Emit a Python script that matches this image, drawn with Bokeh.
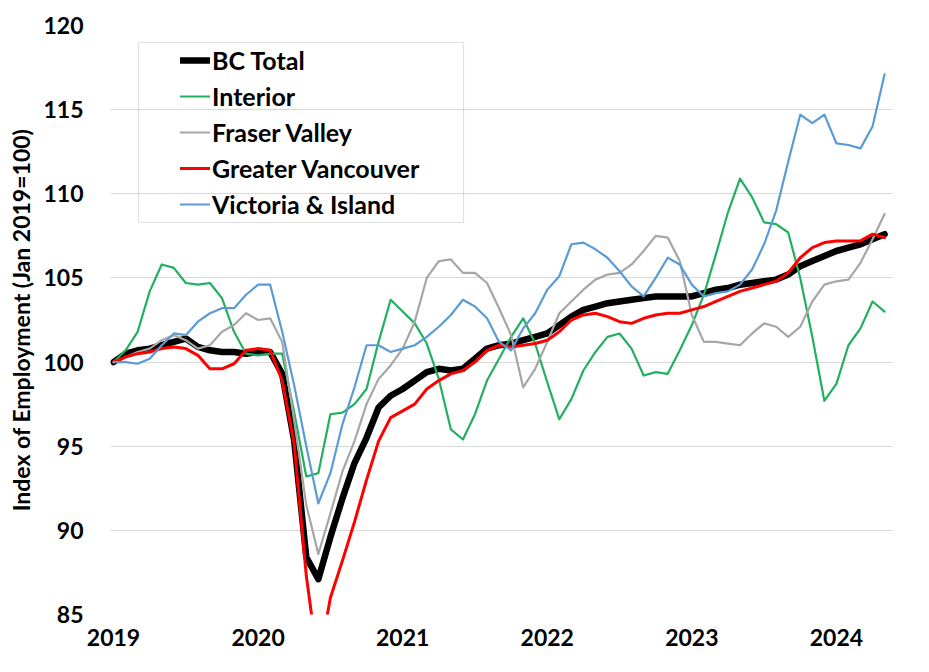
from bokeh.plotting import figure
from bokeh.models import FixedTicker, Legend, LegendItem, BoxAnnotation, Range1d
from bokeh.embed import file_html
from bokeh.resources import INLINE

# Monthly observations, Jan 2019 (index 0) .. May 2024 (index 64)
start_year = 2019
month_index = list(range(65))

bc_total = [100.0, 100.5, 100.7, 100.8, 101.0, 101.2, 101.4, 100.9, 100.7, 100.6, 100.6, 100.5,
            100.6, 100.6, 99.3, 95.3, 88.4, 87.1, 89.6, 91.9, 94.0, 95.5, 97.3, 98.0,
            98.4, 98.9, 99.4, 99.6, 99.5, 99.6, 100.2, 100.8, 101.0, 101.1, 101.3, 101.5,
            101.7, 102.2, 102.7, 103.1, 103.3, 103.5, 103.6, 103.7, 103.8, 103.9, 103.9, 103.9,
            103.9, 104.1, 104.3, 104.4, 104.6, 104.7, 104.8, 104.9, 105.2, 105.7, 106.0, 106.3,
            106.6, 106.8, 107.0, 107.3, 107.6]

interior = [100.0, 100.7, 101.8, 104.2, 105.8, 105.6, 104.7, 104.6, 104.7, 103.8, 101.8, 100.5,
            100.4, 100.5, 100.5, 97.0, 93.2, 93.4, 96.9, 97.0, 97.5, 98.4, 101.2, 103.7,
            103.0, 102.3, 101.1, 99.0, 96.0, 95.4, 96.9, 98.9, 100.2, 101.5, 102.6, 101.1,
            98.8, 96.6, 97.8, 99.5, 100.6, 101.5, 101.7, 100.8, 99.2, 99.4, 99.3, 100.7,
            102.2, 104.0, 106.4, 108.9, 110.9, 109.8, 108.3, 108.2, 107.7, 105.0, 101.5, 97.7,
            98.7, 101.0, 102.0, 103.6, 103.0]

fraser_valley = [100.0, 100.3, 100.6, 100.8, 101.3, 101.6, 101.3, 100.8, 101.0, 101.8, 102.2, 102.9,
                 102.5, 102.6, 101.2, 96.5, 91.5, 88.6, 91.0, 93.5, 95.3, 97.5, 99.0, 99.8,
                 100.8, 102.4, 105.0, 106.0, 106.1, 105.3, 105.3, 104.7, 103.2, 101.6, 98.5, 99.6,
                 101.2, 102.9, 103.6, 104.3, 104.9, 105.2, 105.3, 105.8, 106.6, 107.5, 107.4, 106.0,
                 102.8, 101.2, 101.2, 101.1, 101.0, 101.7, 102.3, 102.1, 101.5, 102.1, 103.6, 104.6,
                 104.8, 104.9, 105.9, 107.3, 108.8]

greater_vancouver = [100.0, 100.3, 100.5, 100.6, 100.8, 100.9, 100.8, 100.4, 99.6, 99.6, 99.9, 100.7,
                     100.8, 100.7, 98.9, 95.1, 87.3, 82.0, 86.0, 88.2, 90.5, 93.0, 95.3, 96.7,
                     97.1, 97.5, 98.4, 98.9, 99.3, 99.5, 100.0, 100.7, 101.0, 100.9, 101.0, 101.1,
                     101.3, 101.8, 102.5, 102.8, 102.9, 102.7, 102.4, 102.3, 102.6, 102.8, 102.9, 102.9,
                     103.1, 103.3, 103.6, 103.9, 104.2, 104.4, 104.6, 104.8, 105.3, 106.2, 106.8, 107.1,
                     107.2, 107.2, 107.2, 107.6, 107.4]

victoria_island = [100.0, 100.0, 99.9, 100.2, 101.0, 101.7, 101.6, 102.4, 102.9, 103.2, 103.2, 104.0,
                   104.6, 104.6, 101.8, 98.6, 95.0, 91.6, 93.4, 96.3, 98.5, 101.0, 101.0, 100.6,
                   100.8, 101.0, 101.5, 102.1, 102.8, 103.7, 103.3, 102.6, 101.2, 100.7, 102.0, 102.9,
                   104.3, 105.1, 107.0, 107.1, 106.7, 106.2, 105.4, 104.5, 103.9, 105.0, 106.2, 105.8,
                   104.6, 103.9, 104.1, 104.2, 104.6, 105.5, 107.0, 109.0, 111.9, 114.7, 114.2, 114.7,
                   113.0, 112.9, 112.7, 114.0, 117.1]

series_names = ["BC Total", "Interior", "Fraser Valley", "Greater Vancouver", "Victoria & Island"]
year_ticks = [2019, 2020, 2021, 2022, 2023, 2024]
y_ticks = [85, 90, 95, 100, 105, 110, 115, 120]

x = [start_year + m / 12.0 for m in month_index]

FONT = "Lato"
x0, x1 = 2018.979, 2024.395
y0, y1 = 85, 120

W, H = 913, 656
BL, BR, BT, BB = 110, 20, 25, 42

p = figure(width=W, height=H, output_backend="svg", toolbar_location=None,
           x_range=Range1d(x0, x1), y_range=Range1d(y0, y1),
           min_border_left=BL, min_border_right=BR, min_border_top=BT, min_border_bottom=BB)
p.outline_line_color = None
p.background_fill_color = "white"
p.border_fill_color = "white"

styles = [
    ("black", 6.5),
    ("#22B060", 2.2),
    ("#A6A6A6", 2.2),
    ("#FF0000", 3.0),
    ("#5B9BD5", 2.2),
]
data = [bc_total, interior, fraser_valley, greater_vancouver, victoria_island]
renderers = []
for (color, w), ys in zip(styles, data):
    r = p.line(x, ys, line_color=color, line_width=w, line_join="round", line_cap="round")
    renderers.append(r)

# axes
p.xaxis.ticker = FixedTicker(ticks=year_ticks)
p.yaxis.ticker = FixedTicker(ticks=y_ticks)
p.xgrid.visible = False
p.ygrid.ticker = FixedTicker(ticks=y_ticks)
p.ygrid.grid_line_color = "#D9D9D9"
p.ygrid.grid_line_width = 1.2
for ax in (p.xaxis, p.yaxis):
    ax.axis_line_color = None
    ax.major_tick_line_color = None
    ax.minor_tick_line_color = None
    ax.major_tick_out = 0
    ax.major_tick_in = 0
    ax.major_label_text_font = FONT
    ax.major_label_text_font_style = "bold"
    ax.major_label_text_font_size = "23px"
    ax.major_label_text_color = "black"
p.xaxis.major_label_standoff = 14
p.yaxis.major_label_standoff = 27
p.yaxis.axis_label = "Index of Employment (Jan 2019=100)"
p.yaxis.axis_label_text_font = FONT
p.yaxis.axis_label_text_font_style = "bold"
p.yaxis.axis_label_text_font_size = "23px"
p.yaxis.axis_label_text_color = "black"
p.yaxis.axis_label_standoff = 5

# legend frame (pixel offsets inside the plot frame converted to data units)
fw = W - BL - BR
fh = H - BT - BB
def px_x(px):
    return x0 + px / fw * (x1 - x0)
def px_y_from_top(py):
    return y1 - py / fh * (y1 - y0)
box = BoxAnnotation(left=px_x(28), right=px_x(353), top=px_y_from_top(17), bottom=px_y_from_top(197),
                    fill_alpha=0, line_color="#A0A0A0", line_width=1.2)
p.add_layout(box)

legend = Legend(items=[LegendItem(label=n, renderers=[r]) for n, r in zip(series_names, renderers)],
                location=(70, 392))
legend.label_text_font = FONT
legend.label_text_font_style = "bold"
legend.label_text_font_size = "25px"
legend.label_text_color = "black"
legend.glyph_width = 30
legend.glyph_height = 36
legend.label_height = 36
legend.spacing = 0
legend.padding = 0
legend.margin = 0
legend.label_standoff = 2
legend.border_line_alpha = 0
legend.background_fill_alpha = 0
p.add_layout(legend)

open("out.html", "w").write(file_html(p, INLINE))
